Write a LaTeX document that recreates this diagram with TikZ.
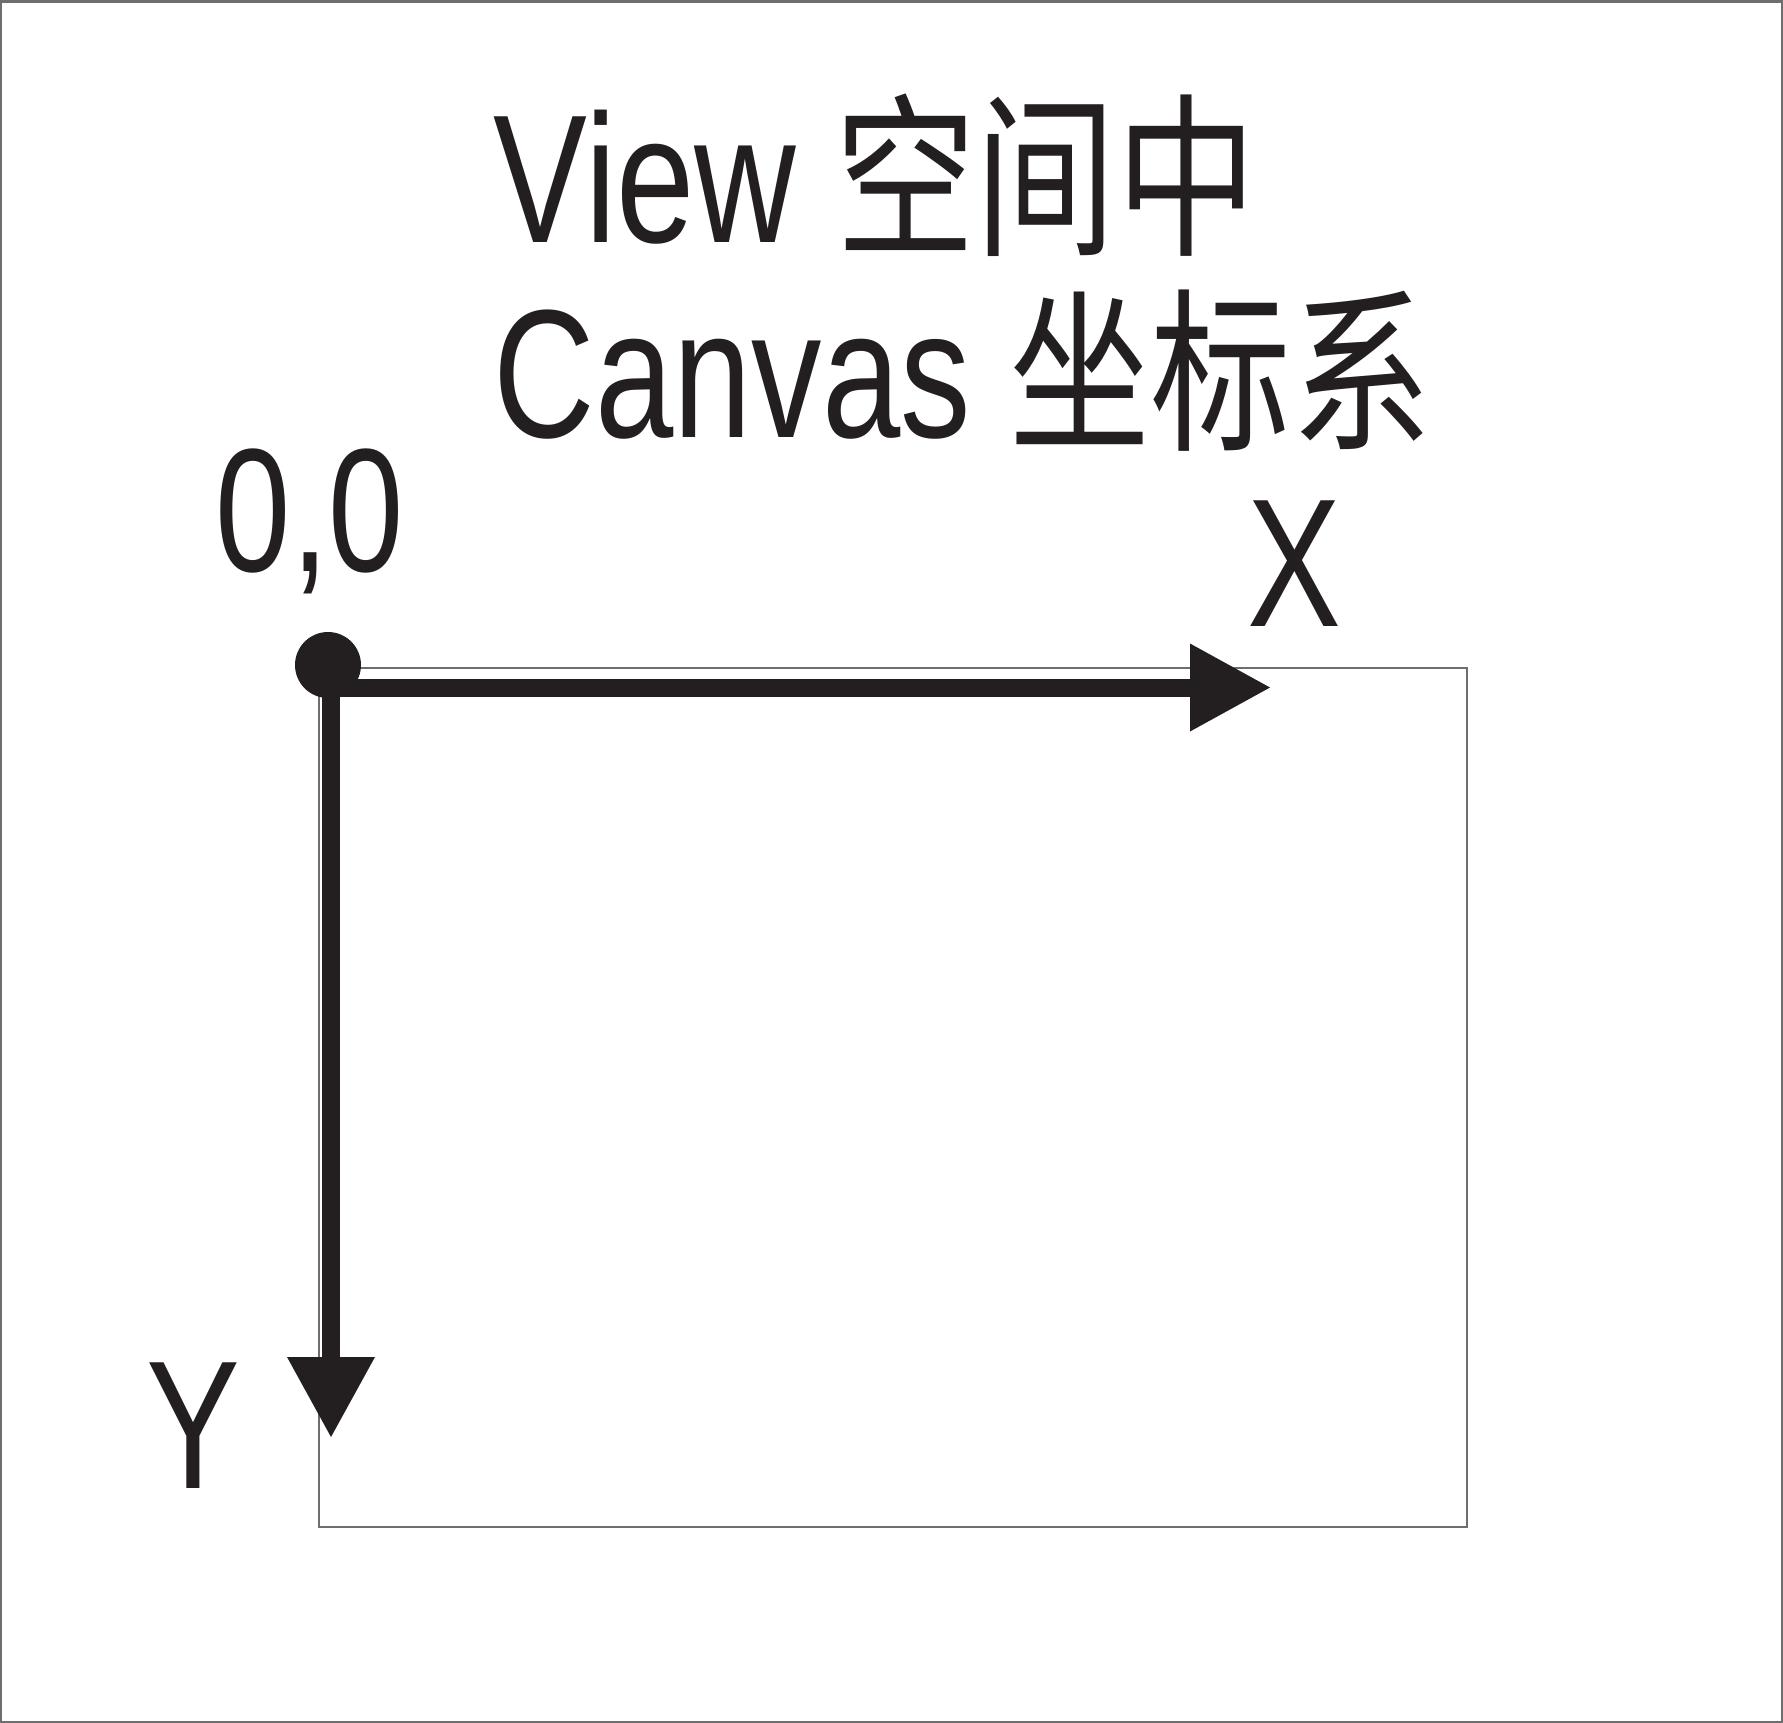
\documentclass[tikz,border=0pt]{standalone}
\usepackage{fontspec}
\usepackage{tikz}
\usetikzlibrary{arrows.meta}
\newfontfamily\labelfont[FakeStretch=0.77]{Liberation Sans}
\newfontfamily\cjkfont[FakeStretch=0.80]{Noto Sans CJK SC}
\newcommand{\cjk}{\cjkfont\fontsize{50}{60}\selectfont}
\definecolor{ink}{RGB}{35,31,32}
\definecolor{framegray}{RGB}{110,110,110}
\tikzset{
	lbl/.style={font=\labelfont\fontsize{52}{60}\selectfont, text=ink, inner sep=0pt},
	axis/.style={draw=ink, line width=0.18cm, -{Triangle[length=0.8cm, width=0.88cm, line width=0pt]}},
	thinframe/.style={draw=framegray, line width=0.015cm}
}
\begin{document}
\begin{tikzpicture}
		% Frame and canvas:
		\useasboundingbox (0, 0) rectangle (17.83, -17.23);
		\draw[framegray, line width=0.025cm] (0.0125, -0.0125) rectangle (17.8175, -17.2175);
		\draw[thinframe] (3.19, -6.68) rectangle (14.67, -15.27);
		% Labels:
		\node[lbl, anchor=base west](title1) at (4.93, -2.42){View {\cjk 空间中}};
		\node[lbl, anchor=base west](title2) at (4.93, -4.37){Canvas {\cjk 坐标系}};
		\node[lbl, anchor=base, font=\labelfont\fontsize{50}{60}\selectfont](origlbl) at (3.10, -5.71){0,0};
		\node[lbl, anchor=base](xlbl) at (12.94, -6.26){X};
		\node[lbl, anchor=base](ylbl) at (1.93, -14.88){Y};
		% Axes:
		\coordinate (xtail) at (3.22, -6.875);
		\coordinate (xtip) at (12.70, -6.875);
		\coordinate (ytail) at (3.31, -6.64);
		\coordinate (ytip) at (3.31, -14.37);
		\draw[axis] (xtail) -- (xtip);
		\draw[axis] (ytail) -- (ytip);
		\node[circle, fill=ink, minimum size=0.66cm, inner sep=0pt](origin) at (3.28, -6.65){};
	\end{tikzpicture}
\end{document}
